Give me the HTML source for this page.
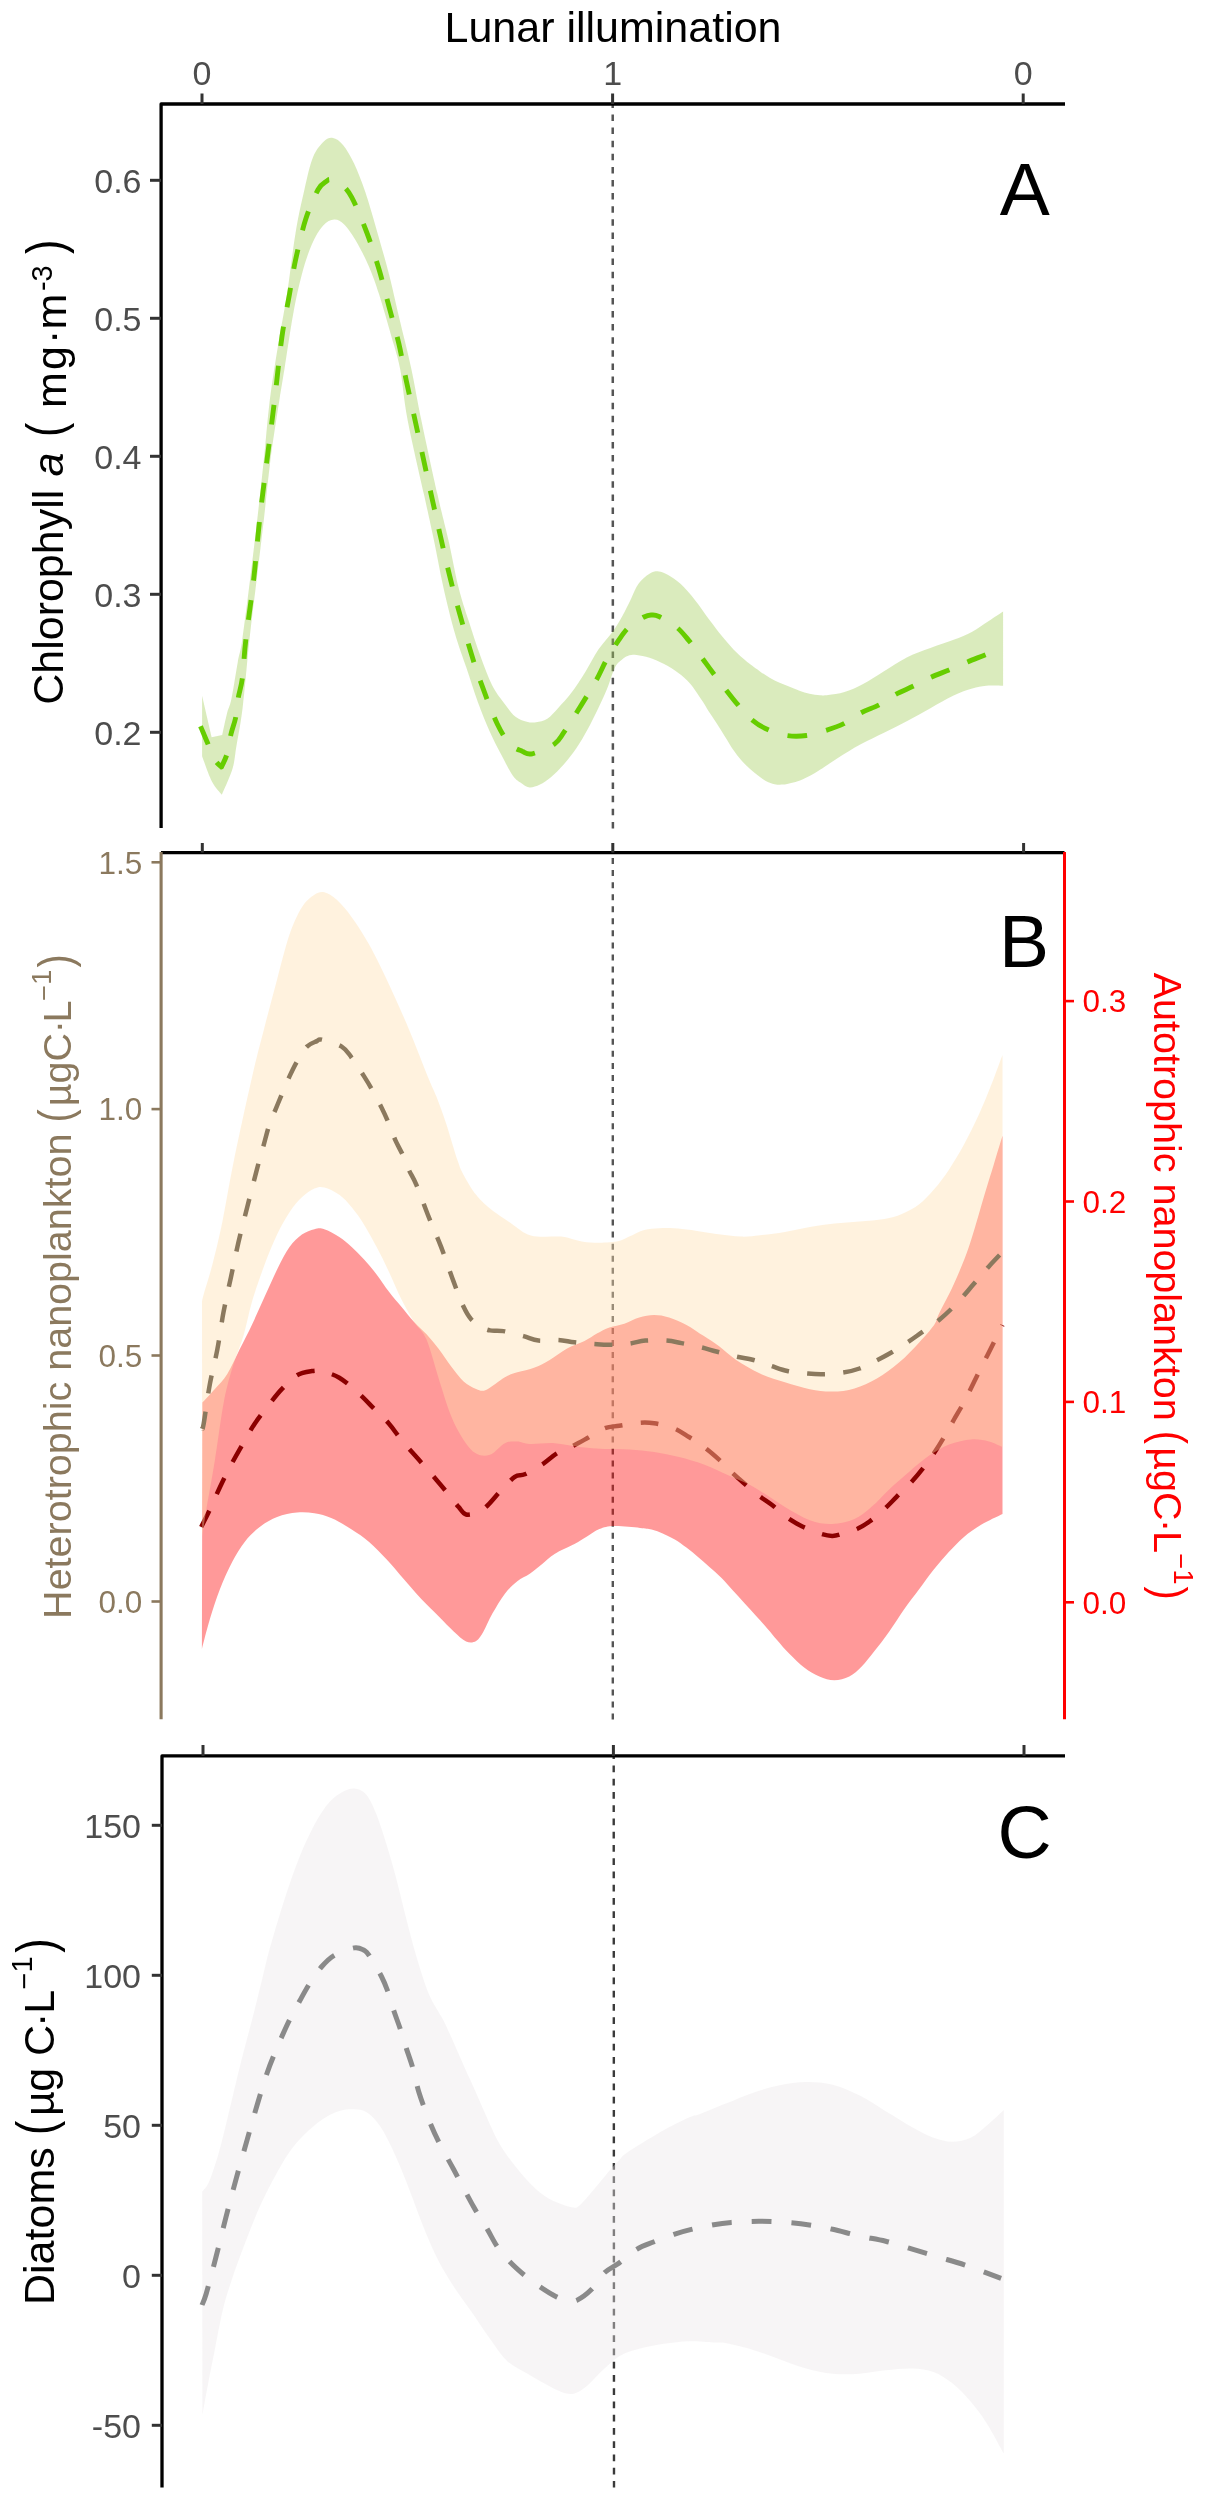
<!DOCTYPE html>
<html><head><meta charset="utf-8"><title>Lunar illumination</title>
<style>html,body{margin:0;padding:0;background:#fff;}svg{display:block;will-change:transform;font-family:"Liberation Sans",sans-serif;}</style></head>
<body><svg width="1206" height="2500" viewBox="0 0 1206 2500" font-family="Liberation Sans, sans-serif">
<rect width="1206" height="2500" fill="#fff"/>
<line x1="612.7" y1="101.4" x2="612.9" y2="828.6" stroke="#555" stroke-width="2.5" stroke-dasharray="6.5 6.6" stroke-dashoffset="0"/>
<path d="M202.1,695.8 L211.6,737.3 L222.2,735.0 C223.0,731.4 225.6,719.1 227.1,713.1 C228.6,707.1 229.6,707.5 231.4,699.0 C233.2,690.5 236.0,671.8 237.8,662.0 C239.6,652.2 240.2,653.7 242.2,640.0 C244.2,626.3 247.5,600.0 250.0,580.0 C252.5,560.0 254.9,540.0 257.2,520.0 C259.5,500.0 261.7,480.0 263.8,460.0 C265.9,440.0 267.4,419.4 269.8,400.0 C272.2,380.6 275.4,361.6 278.3,343.9 C281.2,326.2 284.1,312.6 287.0,294.0 C289.9,275.4 292.8,249.4 295.7,232.0 C298.6,214.6 301.5,202.1 304.4,189.7 C307.3,177.2 309.7,165.4 313.0,157.3 C316.3,149.2 321.0,144.3 324.3,141.1 C327.6,137.9 329.9,137.3 333.0,137.9 C336.1,138.5 339.5,140.6 343.0,144.9 C346.5,149.2 350.4,155.6 354.1,163.5 C357.8,171.4 361.6,181.1 365.3,192.1 C369.0,203.1 372.6,215.8 376.5,229.5 C380.4,243.2 385.3,259.7 389.0,274.2 C392.7,288.7 395.2,300.7 398.9,316.5 C402.6,332.3 407.6,351.6 411.3,368.8 C415.0,386.1 416.9,399.0 421.3,420.0 C425.7,441.0 433.0,474.6 437.5,494.6 C442.0,514.6 444.9,524.7 448.4,540.0 C451.9,555.3 454.9,572.9 458.3,586.4 C461.7,599.9 465.1,609.7 468.8,621.3 C472.5,632.9 476.5,645.5 480.4,656.1 C484.3,666.7 488.1,677.4 492.0,685.1 C495.9,692.8 499.7,697.3 503.6,702.5 C507.5,707.7 511.3,713.3 515.2,716.5 C519.1,719.7 523.3,720.7 526.8,721.7 C530.3,722.7 532.7,722.8 536.1,722.3 C539.5,721.8 543.6,721.2 547.3,718.8 C551.0,716.4 554.2,712.1 558.2,707.9 C562.2,703.6 566.4,699.4 571.0,693.3 C575.6,687.2 581.0,678.7 585.6,671.4 C590.2,664.1 593.8,656.2 598.4,649.5 C603.0,642.8 609.0,636.7 613.0,631.2 C617.0,625.7 619.1,622.1 622.1,616.6 C625.1,611.1 628.5,603.9 631.2,598.4 C633.9,592.9 635.5,587.9 638.5,583.8 C641.5,579.7 646.1,575.9 649.5,573.8 C652.9,571.7 655.6,571.2 658.6,571.4 C661.6,571.5 664.1,572.6 667.7,574.7 C671.4,576.8 675.9,579.5 680.5,583.8 C685.1,588.0 690.2,594.1 695.1,600.2 C700.0,606.3 705.1,614.2 709.7,620.3 C714.3,626.4 717.9,631.2 722.5,636.7 C727.1,642.2 732.5,648.5 737.1,653.1 C741.7,657.7 746.1,661.1 749.9,664.1 C753.7,667.1 756.7,669.1 760.0,671.4 C763.3,673.7 766.4,675.9 769.7,677.8 C773.0,679.7 776.3,681.3 779.6,682.8 C782.9,684.3 786.3,685.5 789.6,686.8 C792.9,688.1 796.2,689.6 799.5,690.7 C802.8,691.9 806.1,693.0 809.5,693.7 C812.9,694.5 816.9,695.0 820.0,695.2 C823.1,695.4 824.1,695.6 828.2,695.1 C832.3,694.6 838.7,694.0 844.5,692.1 C850.3,690.2 856.5,687.5 863.1,684.0 C869.7,680.5 876.6,675.7 884.0,671.2 C891.4,666.7 899.5,661.1 907.2,657.2 C914.9,653.3 922.7,650.9 930.4,648.0 C938.1,645.1 946.6,642.5 953.6,639.8 C960.6,637.1 966.4,634.8 972.2,631.7 C978.0,628.6 983.2,624.7 988.4,621.3 C993.5,617.9 1000.6,613.1 1003.1,611.5 L1003.1,685.8 C1000.3,685.8 991.2,685.3 986.1,685.8 C981.0,686.3 977.6,687.0 972.2,688.6 C966.8,690.2 960.6,692.3 953.6,695.6 C946.6,698.9 938.1,704.0 930.4,708.3 C922.7,712.5 914.9,717.0 907.2,721.1 C899.5,725.2 891.8,728.8 884.0,732.7 C876.2,736.6 868.5,740.0 860.7,744.3 C853.0,748.5 844.3,754.0 837.5,758.2 C830.7,762.5 824.6,766.9 820.0,769.8 C815.4,772.7 813.3,774.0 810.0,775.8 C806.7,777.6 803.1,779.2 800.0,780.4 C796.9,781.6 794.1,782.2 791.2,782.9 C788.4,783.6 785.7,784.4 782.9,784.6 C780.1,784.8 777.4,784.8 774.6,784.2 C771.8,783.7 769.1,782.8 766.3,781.3 C763.5,779.8 760.8,777.6 758.0,775.5 C755.2,773.4 752.5,771.3 749.8,768.8 C747.0,766.3 744.3,763.7 741.5,760.5 C738.7,757.3 736.0,753.8 733.2,749.8 C730.4,745.8 727.7,740.9 724.9,736.5 C722.1,732.1 719.4,727.5 716.6,723.2 C713.8,718.9 710.8,714.7 708.3,710.8 C705.8,706.9 704.8,704.5 701.7,700.0 C698.7,695.5 693.8,688.0 690.0,683.5 C686.2,679.0 683.0,676.4 678.7,673.2 C674.4,670.0 669.0,666.7 664.1,664.1 C659.2,661.5 654.1,659.2 649.5,657.7 C644.9,656.2 640.1,655.4 636.7,655.0 C633.4,654.6 631.8,654.5 629.4,655.3 C627.0,656.0 624.5,657.4 622.1,659.5 C619.7,661.6 617.2,663.0 614.8,667.7 C612.4,672.4 610.2,681.1 607.5,687.8 C604.8,694.5 601.8,700.9 598.4,707.9 C595.0,714.9 591.0,723.1 587.4,729.8 C583.8,736.5 580.5,742.2 576.5,748.0 C572.5,753.8 568.0,759.6 563.7,764.5 C559.4,769.4 554.9,773.9 550.9,777.2 C546.9,780.5 543.5,782.8 540.0,784.5 C536.5,786.2 532.7,787.5 529.7,787.4 C526.7,787.3 525.0,785.7 522.2,783.7 C519.4,781.8 516.4,780.5 512.9,775.7 C509.4,770.9 505.2,762.2 501.3,754.8 C497.4,747.4 493.6,740.2 489.7,731.5 C485.8,722.8 481.9,713.1 478.0,702.5 C474.1,691.9 470.3,679.3 466.4,667.7 C462.5,656.1 458.7,646.5 454.8,632.9 C450.9,619.3 446.7,601.9 443.2,586.4 C439.7,570.9 437.1,555.3 433.9,540.0 C430.7,524.7 428.4,514.6 424.0,494.6 C419.6,474.6 411.6,441.0 407.6,420.0 C403.6,399.0 402.8,382.7 400.1,368.8 C397.4,354.9 394.9,348.8 391.4,336.4 C387.9,323.9 382.7,305.7 379.0,294.1 C375.3,282.5 372.7,275.5 369.0,266.8 C365.3,258.1 360.7,249.0 356.6,241.9 C352.5,234.8 347.9,228.2 344.2,224.5 C340.5,220.8 337.7,219.3 334.2,219.5 C330.7,219.7 326.7,221.5 323.0,225.7 C319.3,229.8 315.3,236.3 311.8,244.4 C308.3,252.5 305.0,262.6 301.9,274.2 C298.8,285.8 296.1,298.2 293.2,314.0 C290.3,329.8 286.8,354.5 284.5,368.8 C282.2,383.1 281.8,384.8 279.4,400.0 C277.0,415.2 273.0,440.0 270.4,460.0 C267.8,480.0 266.1,500.0 263.8,520.0 C261.5,540.0 259.0,560.0 256.6,580.0 C254.2,600.0 251.7,618.7 249.4,640.0 C247.1,661.3 244.8,690.3 242.6,708.0 C240.4,725.7 238.1,736.1 236.4,746.2 C234.7,756.3 234.9,760.7 232.5,768.8 C230.1,776.9 223.6,790.4 221.8,794.7 C220.2,792.5 215.2,787.8 211.9,781.4 C208.6,775.0 203.7,760.4 202.1,756.2 Z" fill="#A2CD5A" fill-opacity="0.4"/>
<path d="M200.5,726.3 C201.8,729.2 205.6,738.4 208.0,744.0 C210.4,749.6 212.8,756.2 215.0,760.0 C217.2,763.8 220.4,765.8 221.5,767.0 C222.4,764.8 225.4,759.5 227.0,754.0 C228.6,748.5 229.5,740.2 231.0,734.0 C232.5,727.8 234.6,723.0 235.8,717.0 C237.0,711.0 237.1,704.5 238.2,698.0 C239.3,691.5 241.1,687.7 242.4,678.0 C243.7,668.3 243.9,656.3 245.8,640.0 C247.7,623.7 251.3,600.0 253.6,580.0 C255.9,560.0 257.4,540.0 259.6,520.0 C261.8,500.0 264.5,480.0 267.0,460.0 C269.5,440.0 272.1,420.6 274.6,400.0 C277.1,379.4 279.5,354.0 282.0,336.4 C284.5,318.8 287.2,307.0 289.5,294.1 C291.8,281.2 293.0,271.7 295.7,259.3 C298.4,246.9 301.9,231.1 305.6,219.5 C309.3,207.9 314.5,196.1 318.0,189.7 C321.5,183.3 324.6,182.7 326.8,181.0 C329.0,179.3 328.8,179.4 331.0,179.7 C333.2,180.0 336.6,180.1 340.0,183.0 C343.4,185.9 347.2,188.9 351.6,197.1 C356.0,205.3 362.0,220.0 366.6,232.0 C371.2,244.0 375.3,256.9 379.0,269.3 C382.7,281.7 385.7,294.2 389.0,306.6 C392.3,319.0 396.0,331.5 398.9,343.9 C401.8,356.3 403.7,368.5 406.4,381.2 C409.1,393.9 410.9,401.1 415.0,420.0 C419.1,438.9 425.2,467.7 431.2,494.6 C437.2,521.6 444.6,555.9 451.1,581.7 C457.6,607.5 464.8,631.9 470.0,649.4 C475.2,666.9 477.8,674.3 482.4,686.7 C486.9,699.1 492.7,714.5 497.3,724.0 C501.9,733.5 505.6,739.4 509.8,743.9 C514.0,748.4 518.5,749.6 522.2,751.3 C525.9,752.9 526.7,755.0 532.1,753.8 C537.5,752.6 549.1,747.6 554.5,743.9 C559.9,740.2 559.9,738.0 564.5,731.4 C569.1,724.8 576.5,712.8 581.9,704.1 C587.3,695.4 592.6,686.7 596.8,679.2 C600.9,671.7 603.1,665.9 606.8,659.3 C610.5,652.7 615.5,644.8 619.2,639.4 C622.9,634.0 625.1,630.7 629.2,627.0 C633.4,623.3 640.4,619.0 644.1,617.0 C647.8,615.0 649.0,615.1 651.5,615.0 C654.0,614.9 654.9,614.5 659.0,616.5 C663.1,618.5 671.4,623.0 676.4,627.0 C681.4,631.0 684.6,635.5 688.9,640.6 C693.2,645.8 698.0,652.5 702.0,657.9 C706.0,663.3 708.9,667.5 712.9,672.8 C716.9,678.1 721.8,684.5 725.9,689.8 C730.0,695.1 733.5,699.7 737.8,704.7 C742.1,709.7 746.7,715.5 751.7,719.6 C756.7,723.8 761.9,727.0 767.7,729.6 C773.5,732.2 780.1,734.5 786.6,735.5 C793.1,736.5 800.0,736.4 806.5,735.5 C813.0,734.6 819.8,732.3 825.9,730.4 C832.0,728.5 837.5,726.8 843.3,723.9 C849.1,721.0 854.7,716.2 860.7,713.0 C866.7,709.8 873.5,707.9 879.3,704.8 C885.1,701.7 890.0,697.5 895.6,694.4 C901.2,691.3 907.2,689.1 913.0,686.3 C918.8,683.5 924.4,680.2 930.4,677.5 C936.4,674.8 942.8,672.6 949.0,670.0 C955.2,667.4 961.5,664.4 967.5,661.9 C973.5,659.4 979.1,657.3 985.0,654.9 C990.9,652.5 1000.0,648.7 1003.0,647.5" fill="none" stroke="#66CD00" stroke-width="4.9" stroke-dasharray="19.67 19.67" stroke-linejoin="round"/>
<line x1="612.8" y1="852" x2="612.8" y2="1719.6" stroke="#555" stroke-width="2.4" stroke-dasharray="6 6.05" stroke-dashoffset="6"/>
<path d="M202.4,1402.5 C204.5,1400.2 210.8,1393.7 214.9,1388.9 C219.1,1384.1 223.2,1380.6 227.3,1373.9 C231.5,1367.2 235.7,1357.3 239.8,1349.0 C244.0,1340.7 248.1,1332.9 252.2,1324.2 C256.3,1315.5 260.5,1305.9 264.6,1296.8 C268.8,1287.7 273.0,1277.8 277.1,1269.5 C281.2,1261.2 285.4,1252.9 289.5,1247.1 C293.6,1241.3 297.8,1237.6 301.9,1234.6 C306.0,1231.6 310.7,1230.1 314.4,1229.2 C318.1,1228.3 320.1,1227.9 324.3,1229.2 C328.5,1230.5 334.7,1234.1 339.3,1237.1 C343.9,1240.1 347.6,1243.4 351.7,1247.1 C355.8,1250.8 360.0,1255.0 364.1,1259.5 C368.2,1264.0 372.5,1269.0 376.6,1274.4 C380.8,1279.8 384.9,1286.4 389.0,1291.8 C393.1,1297.2 397.2,1301.8 401.4,1306.8 C405.5,1311.8 409.8,1317.2 413.9,1321.7 C418.0,1326.2 422.1,1329.5 426.3,1334.1 C430.5,1338.7 434.7,1343.7 438.8,1349.1 C442.9,1354.5 447.1,1361.1 451.2,1366.5 C455.3,1371.9 459.5,1377.7 463.6,1381.4 C467.8,1385.1 472.4,1387.5 476.1,1388.9 C479.8,1390.3 481.2,1391.9 486.0,1390.0 C490.8,1388.1 499.7,1380.2 504.9,1377.3 C510.1,1374.3 512.3,1373.9 517.3,1372.3 C522.3,1370.7 529.3,1369.5 534.7,1367.4 C540.1,1365.3 544.3,1363.0 549.7,1359.9 C555.1,1356.8 561.3,1351.7 567.1,1348.6 C572.9,1345.5 579.5,1343.6 584.5,1341.1 C589.5,1338.6 592.8,1335.9 596.9,1333.6 C601.0,1331.3 604.8,1329.1 609.4,1327.4 C614.0,1325.8 619.3,1325.4 624.3,1323.7 C629.3,1322.0 634.2,1319.0 639.2,1317.5 C644.2,1316.0 649.1,1315.0 654.1,1315.0 C659.1,1315.0 663.7,1315.8 669.1,1317.5 C674.5,1319.2 680.7,1321.8 686.5,1324.9 C692.3,1328.0 698.5,1332.6 703.9,1336.1 C709.3,1339.6 713.4,1342.1 718.8,1346.1 C724.2,1350.1 729.3,1355.4 736.2,1360.0 C743.1,1364.6 751.9,1369.8 760.0,1373.5 C768.1,1377.2 776.6,1379.6 784.9,1382.2 C793.2,1384.8 801.9,1387.6 809.8,1389.2 C817.7,1390.8 824.6,1391.7 832.1,1391.6 C839.6,1391.5 847.0,1390.6 854.5,1388.4 C862.0,1386.2 869.4,1382.8 876.9,1378.5 C884.4,1374.2 892.2,1368.3 899.3,1362.3 C906.3,1356.3 913.4,1348.6 919.2,1342.4 C925.0,1336.2 930.8,1329.8 934.1,1325.0 C937.4,1320.2 935.8,1320.5 939.1,1313.6 C942.4,1306.7 949.0,1295.0 954.0,1283.8 C959.0,1272.6 964.0,1261.0 969.0,1246.5 C974.0,1232.0 979.8,1210.4 983.9,1196.7 C988.0,1183.0 990.7,1174.6 993.8,1164.4 C996.9,1154.2 1001.0,1140.6 1002.5,1135.8 L1002.5,1514.0 C998.9,1515.8 987.6,1520.9 981.1,1524.8 C974.6,1528.7 969.1,1532.7 963.7,1537.2 C958.3,1541.8 953.8,1546.7 948.8,1552.1 C943.8,1557.5 938.8,1563.4 933.8,1569.6 C928.8,1575.8 923.9,1582.9 918.9,1589.5 C913.9,1596.1 909.0,1602.4 904.0,1609.4 C899.0,1616.4 894.1,1624.7 889.1,1631.7 C884.1,1638.7 878.7,1645.8 874.1,1651.6 C869.5,1657.4 865.8,1662.4 861.7,1666.6 C857.6,1670.8 853.9,1674.2 849.3,1676.5 C844.7,1678.8 839.3,1680.2 834.3,1680.2 C829.3,1680.2 824.4,1678.6 819.4,1676.5 C814.4,1674.4 809.5,1671.5 804.5,1667.8 C799.5,1664.1 794.2,1658.7 789.6,1654.1 C785.0,1649.5 780.6,1644.2 777.0,1640.0 C773.4,1635.8 771.2,1632.9 767.7,1628.9 C764.2,1624.9 760.0,1620.4 756.1,1616.1 C752.2,1611.8 748.4,1607.5 744.5,1603.3 C740.6,1599.0 736.8,1594.8 732.9,1590.6 C729.0,1586.3 725.2,1581.7 721.3,1577.8 C717.4,1573.9 713.6,1570.8 709.7,1567.3 C705.8,1563.8 701.9,1560.2 698.0,1556.9 C694.1,1553.6 690.3,1550.5 686.4,1547.6 C682.5,1544.7 678.7,1541.8 674.8,1539.5 C670.9,1537.2 667.1,1535.4 663.2,1533.7 C659.3,1532.0 655.5,1530.6 651.6,1529.6 C647.7,1528.6 646.2,1528.5 640.0,1527.9 C633.8,1527.3 621.1,1525.9 614.3,1526.1 C607.5,1526.3 603.9,1527.4 599.4,1529.1 C594.9,1530.8 591.1,1534.0 587.0,1536.5 C582.9,1539.0 579.9,1541.1 574.5,1544.0 C569.1,1546.9 560.0,1550.6 554.6,1553.9 C549.2,1557.2 546.3,1560.6 542.2,1563.9 C538.1,1567.2 533.9,1570.9 529.8,1573.8 C525.6,1576.7 521.4,1578.0 517.3,1581.3 C513.1,1584.6 509.0,1588.3 504.9,1593.7 C500.8,1599.1 496.0,1607.3 492.4,1613.6 C488.8,1619.9 486.2,1626.9 483.5,1631.4 C480.8,1636.0 479.0,1639.2 476.1,1640.9 C473.2,1642.6 469.8,1643.0 466.1,1641.4 C462.4,1639.8 458.2,1635.6 453.7,1631.4 C449.1,1627.2 444.2,1621.9 438.8,1616.5 C433.4,1611.1 427.1,1605.3 421.3,1599.1 C415.5,1592.9 409.7,1585.8 403.9,1579.2 C398.1,1572.6 392.3,1565.5 386.5,1559.3 C380.7,1553.1 374.9,1546.9 369.1,1541.9 C363.3,1536.9 357.9,1533.4 351.7,1529.5 C345.5,1525.6 338.0,1521.0 331.8,1518.3 C325.6,1515.6 320.2,1514.3 314.4,1513.3 C308.6,1512.3 303.2,1511.9 297.0,1512.5 C290.8,1513.1 283.3,1514.6 277.1,1517.0 C270.9,1519.4 265.1,1522.8 259.7,1527.0 C254.3,1531.2 249.3,1536.1 244.7,1541.9 C240.1,1547.7 236.4,1553.9 232.3,1561.8 C228.2,1569.7 223.6,1579.7 219.9,1589.2 C216.2,1598.7 212.9,1609.0 209.9,1619.0 C206.9,1629.0 203.2,1643.9 201.9,1648.9 Z" fill="#FF0000" fill-opacity="0.4"/>
<path d="M201.2,1527.0 C202.6,1524.1 206.8,1516.2 209.9,1509.6 C213.0,1503.0 216.6,1494.2 219.9,1487.2 C223.2,1480.2 226.1,1474.3 229.8,1467.3 C233.5,1460.2 238.0,1452.2 242.2,1444.9 C246.3,1437.6 250.1,1430.6 254.7,1423.7 C259.3,1416.8 265.1,1409.6 269.6,1403.8 C274.2,1398.0 277.4,1393.7 282.0,1388.9 C286.6,1384.1 292.0,1378.2 297.0,1375.2 C302.0,1372.2 307.8,1371.6 311.9,1371.0 C316.0,1370.4 317.2,1370.3 321.8,1371.4 C326.4,1372.5 333.1,1374.0 339.3,1377.7 C345.5,1381.4 353.4,1388.6 359.2,1393.8 C365.0,1399.0 369.1,1403.8 374.1,1408.8 C379.1,1413.8 384.4,1418.5 389.0,1423.7 C393.6,1428.9 396.4,1433.9 401.4,1439.9 C406.4,1445.9 413.1,1453.2 418.9,1459.8 C424.7,1466.4 431.3,1473.9 436.3,1479.7 C441.3,1485.5 445.0,1490.0 448.7,1494.6 C452.4,1499.2 455.8,1503.8 458.7,1507.1 C461.6,1510.4 462.8,1513.7 466.1,1514.5 C469.4,1515.3 475.0,1513.6 478.6,1512.0 C482.2,1510.4 484.4,1508.4 488.0,1505.0 C491.6,1501.6 495.4,1496.4 499.9,1491.7 C504.4,1487.0 510.6,1479.7 514.8,1476.8 C518.9,1473.9 520.2,1476.4 524.8,1474.3 C529.4,1472.2 536.8,1467.9 542.2,1464.4 C547.6,1460.9 551.9,1456.3 557.1,1453.2 C562.3,1450.1 568.3,1448.2 573.3,1445.7 C578.3,1443.2 581.8,1441.2 587.0,1438.3 C592.2,1435.4 599.0,1430.4 604.4,1428.3 C609.8,1426.2 613.5,1426.7 619.3,1425.8 C625.1,1424.9 633.4,1423.2 639.2,1422.8 C645.0,1422.4 648.3,1422.4 654.1,1423.3 C659.9,1424.2 668.2,1426.0 674.0,1428.3 C679.8,1430.6 684.0,1433.9 689.0,1437.0 C694.0,1440.1 698.9,1443.3 703.9,1447.0 C708.9,1450.7 714.2,1455.3 718.8,1459.4 C723.3,1463.5 727.1,1467.9 731.2,1471.8 C735.4,1475.7 739.1,1479.0 743.7,1483.0 C748.3,1487.0 753.8,1491.8 758.6,1495.5 C763.4,1499.2 767.6,1501.6 772.4,1505.3 C777.2,1509.0 782.4,1514.3 787.4,1517.8 C792.4,1521.3 796.9,1523.9 802.3,1526.5 C807.7,1529.1 814.7,1531.8 819.7,1533.4 C824.7,1535.0 828.4,1535.8 832.1,1535.9 C835.8,1536.0 838.0,1535.1 842.1,1533.9 C846.2,1532.8 852.4,1531.1 857.0,1529.0 C861.6,1526.9 864.9,1524.8 869.5,1521.5 C874.1,1518.2 879.9,1513.2 884.4,1509.1 C888.9,1504.9 892.2,1501.2 896.8,1496.6 C901.3,1492.0 907.1,1486.7 911.7,1481.7 C916.3,1476.7 920.5,1471.6 924.2,1466.8 C927.9,1462.0 930.8,1458.1 934.1,1453.1 C937.4,1448.1 940.8,1442.5 944.1,1436.9 C947.4,1431.3 950.7,1425.3 954.0,1419.5 C957.3,1413.7 960.7,1408.3 964.0,1402.1 C967.3,1395.9 970.6,1388.8 973.9,1382.2 C977.2,1375.6 980.6,1368.9 983.9,1362.3 C987.2,1355.7 990.7,1348.6 993.8,1342.4 C996.9,1336.2 1001.0,1327.9 1002.5,1325.0" fill="none" stroke="#8B0000" stroke-width="4.5" stroke-dasharray="18.1 18.1" stroke-linejoin="round"/>
<path d="M202.0,1301.8 C202.3,1300.5 202.0,1300.5 203.7,1294.3 C205.4,1288.1 209.3,1276.5 212.4,1264.5 C215.5,1252.5 218.7,1239.6 222.3,1222.2 C225.9,1204.8 229.0,1184.3 234.0,1160.0 C239.0,1135.7 247.1,1098.6 252.2,1076.4 C257.3,1054.2 260.5,1042.9 264.6,1026.7 C268.8,1010.5 273.0,994.8 277.1,979.4 C281.2,964.0 285.4,946.6 289.5,934.6 C293.6,922.6 297.8,913.9 301.9,907.3 C306.0,900.7 310.7,897.3 314.4,894.8 C318.1,892.3 320.6,891.5 324.3,892.3 C328.0,893.1 332.2,895.6 336.8,899.8 C341.4,903.9 346.3,909.7 351.7,917.2 C357.1,924.7 362.9,933.4 369.1,944.6 C375.3,955.8 382.4,970.3 389.0,984.4 C395.6,998.5 402.3,1013.5 408.9,1029.2 C415.5,1045.0 424.2,1067.7 428.8,1078.9 C433.4,1090.1 433.4,1088.8 436.3,1096.3 C439.2,1103.8 442.7,1113.1 446.2,1123.7 C449.7,1134.3 454.5,1151.5 457.4,1160.0 C460.3,1168.5 460.5,1169.1 463.6,1174.9 C466.7,1180.7 471.7,1189.2 476.1,1194.8 C480.5,1200.4 484.0,1203.6 490.0,1208.5 C496.0,1213.4 506.5,1220.1 512.3,1224.2 C518.1,1228.3 520.6,1230.8 524.8,1232.9 C528.9,1235.0 532.7,1236.0 537.2,1236.6 C541.8,1237.2 547.5,1236.5 552.1,1236.6 C556.7,1236.7 560.0,1236.3 564.6,1237.1 C569.2,1237.8 574.5,1240.1 579.5,1241.1 C584.5,1242.0 588.2,1242.7 594.4,1242.8 C600.6,1242.9 611.0,1242.6 616.8,1241.6 C622.6,1240.6 624.7,1238.5 629.3,1236.6 C633.9,1234.6 639.2,1231.3 644.2,1229.9 C649.2,1228.5 654.1,1228.5 659.1,1228.2 C664.1,1227.9 668.6,1227.9 674.0,1228.2 C679.4,1228.5 684.4,1229.1 691.4,1230.1 C698.4,1231.1 708.0,1233.0 716.3,1234.1 C724.6,1235.2 733.9,1236.4 741.2,1236.6 C748.5,1236.8 752.7,1236.1 760.0,1235.3 C767.3,1234.5 776.6,1233.4 784.9,1232.0 C793.2,1230.6 801.5,1228.5 809.8,1227.1 C818.1,1225.7 826.3,1224.5 834.6,1223.6 C842.9,1222.7 851.2,1222.3 859.5,1221.6 C867.8,1220.8 877.4,1220.3 884.4,1219.1 C891.4,1217.8 896.0,1216.6 901.8,1214.1 C907.6,1211.6 913.8,1208.3 919.2,1204.2 C924.6,1200.1 929.1,1195.1 934.1,1189.3 C939.1,1183.5 944.1,1176.9 949.1,1169.4 C954.1,1161.9 959.0,1153.6 964.0,1144.5 C969.0,1135.4 974.4,1124.5 978.9,1114.6 C983.4,1104.6 987.4,1094.8 991.3,1084.8 C995.2,1074.8 1000.6,1059.9 1002.5,1054.9 L1002.5,1446.9 C1000.2,1446.0 994.1,1442.7 988.9,1441.4 C983.7,1440.2 978.0,1438.9 971.4,1439.4 C964.8,1439.9 956.1,1441.7 949.1,1444.4 C942.1,1447.1 935.8,1451.0 929.2,1455.6 C922.6,1460.1 915.9,1466.1 909.3,1471.7 C902.7,1477.3 895.6,1483.4 889.4,1489.2 C883.2,1495.0 877.7,1501.6 871.9,1506.6 C866.1,1511.6 861.1,1516.1 854.5,1519.0 C847.9,1521.9 839.6,1523.8 832.1,1524.0 C824.6,1524.2 817.7,1523.0 809.8,1520.2 C801.9,1517.4 794.3,1512.5 784.9,1507.0 C775.5,1501.5 763.0,1492.2 753.6,1487.0 C744.2,1481.8 737.1,1479.4 728.8,1475.6 C720.5,1471.8 712.2,1467.5 703.9,1464.4 C695.6,1461.3 687.3,1459.0 679.0,1456.9 C670.7,1454.8 662.4,1453.1 654.1,1451.9 C645.8,1450.7 637.6,1450.0 629.3,1449.5 C621.0,1449.0 612.7,1449.4 604.4,1449.0 C596.1,1448.6 587.8,1448.0 579.5,1447.0 C571.2,1446.0 562.9,1443.7 554.6,1443.2 C546.3,1442.7 536.0,1444.3 529.8,1444.0 C523.6,1443.7 521.4,1441.6 517.3,1441.5 C513.1,1441.4 509.4,1441.0 504.9,1443.2 C500.3,1445.4 494.8,1453.1 490.0,1454.8 C485.2,1456.5 480.5,1456.1 476.1,1453.6 C471.7,1451.1 467.8,1446.1 463.6,1439.9 C459.5,1433.7 455.3,1426.4 451.2,1416.2 C447.1,1406.0 442.9,1391.8 438.8,1378.9 C434.7,1366.1 430.5,1348.6 426.3,1339.1 C422.1,1329.6 418.0,1328.3 413.9,1321.7 C409.8,1315.1 405.5,1307.6 401.4,1299.3 C397.2,1291.0 393.1,1280.6 389.0,1271.9 C384.9,1263.2 380.8,1255.0 376.6,1247.1 C372.5,1239.2 368.2,1231.3 364.1,1224.7 C360.0,1218.1 355.8,1212.3 351.7,1207.3 C347.6,1202.3 343.9,1198.1 339.3,1194.8 C334.7,1191.5 328.5,1188.4 324.3,1187.4 C320.1,1186.4 318.1,1186.9 314.4,1188.6 C310.7,1190.2 306.0,1193.4 301.9,1197.3 C297.8,1201.2 293.6,1206.0 289.5,1212.2 C285.4,1218.4 281.2,1225.9 277.1,1234.6 C273.0,1243.3 268.8,1253.4 264.6,1264.5 C260.5,1275.6 255.7,1289.2 252.2,1301.0 C248.7,1312.8 246.8,1324.3 243.7,1335.0 C240.5,1345.7 236.6,1354.0 233.3,1365.0 C230.0,1376.0 227.1,1384.9 224.0,1401.0 C220.9,1417.1 217.6,1443.6 214.7,1461.4 C211.8,1479.2 208.7,1495.4 206.6,1507.8 C204.5,1520.2 202.9,1531.3 202.2,1536.0 Z" fill="#FFDEAD" fill-opacity="0.4"/>
<path d="M202.0,1428.7 C202.3,1427.9 202.4,1431.2 203.7,1423.7 C205.0,1416.2 207.6,1396.3 209.9,1383.9 C212.2,1371.5 215.1,1361.1 217.4,1349.1 C219.7,1337.1 221.3,1323.7 223.6,1311.7 C225.9,1299.7 228.5,1288.5 231.0,1276.9 C233.5,1265.3 235.8,1253.7 238.5,1242.1 C241.2,1230.5 243.9,1220.4 247.2,1207.3 C250.5,1194.2 255.7,1173.9 258.4,1163.7 C261.1,1153.5 261.5,1152.8 263.4,1146.1 C265.3,1139.4 267.5,1129.9 269.6,1123.7 C271.7,1117.5 273.7,1113.8 275.8,1108.8 C277.9,1103.8 279.7,1099.2 282.0,1093.8 C284.3,1088.4 287.0,1081.8 289.5,1076.4 C292.0,1071.0 294.1,1066.5 297.0,1061.5 C299.9,1056.5 303.6,1050.0 306.9,1046.6 C310.2,1043.2 314.4,1042.3 316.9,1041.1 C319.4,1039.9 317.7,1038.7 321.8,1039.6 C325.9,1040.5 336.7,1043.6 341.7,1046.6 C346.7,1049.6 348.0,1052.8 351.7,1057.8 C355.4,1062.8 360.8,1071.2 364.1,1076.4 C367.4,1081.6 368.7,1083.7 371.6,1088.9 C374.5,1094.1 378.8,1102.1 381.5,1107.5 C384.2,1112.9 385.5,1115.8 387.8,1121.2 C390.1,1126.6 392.7,1134.3 395.2,1139.9 C397.7,1145.5 400.4,1149.8 402.7,1154.8 C405.0,1159.8 406.6,1165.0 408.9,1170.0 C411.2,1175.0 413.1,1177.0 416.4,1184.9 C419.7,1192.8 424.7,1206.8 428.8,1217.2 C432.9,1227.6 437.1,1236.3 441.2,1247.1 C445.3,1257.9 450.0,1272.0 453.7,1281.9 C457.4,1291.9 460.7,1300.6 463.6,1306.8 C466.5,1313.0 468.2,1315.9 471.1,1319.2 C474.0,1322.5 477.9,1324.8 481.0,1326.7 C484.1,1328.6 486.2,1329.7 490.0,1330.4 C493.8,1331.1 498.0,1330.1 503.6,1331.1 C509.2,1332.0 517.7,1334.5 523.5,1336.1 C529.3,1337.7 532.7,1340.0 538.5,1340.6 C544.3,1341.2 552.4,1339.6 558.4,1339.9 C564.4,1340.2 568.5,1341.6 574.5,1342.3 C580.5,1343.0 588.4,1343.7 594.4,1344.1 C600.4,1344.5 604.8,1344.9 610.6,1344.8 C616.4,1344.7 623.5,1344.3 629.3,1343.6 C635.1,1342.9 639.2,1341.1 645.4,1340.6 C651.6,1340.1 660.6,1340.2 666.6,1340.6 C672.6,1341.0 675.7,1342.0 681.5,1343.1 C687.3,1344.2 695.6,1345.9 701.4,1347.3 C707.2,1348.7 710.5,1350.0 716.3,1351.5 C722.1,1353.0 730.0,1355.1 736.2,1356.5 C742.4,1357.9 747.8,1358.4 753.6,1360.0 C759.4,1361.6 765.6,1364.2 771.2,1366.0 C776.8,1367.8 781.4,1369.8 787.4,1371.0 C793.4,1372.2 801.5,1373.0 807.3,1373.5 C813.1,1374.0 816.4,1374.3 822.2,1374.2 C828.0,1374.1 835.9,1373.7 842.1,1372.7 C848.3,1371.8 853.7,1370.6 859.5,1368.5 C865.3,1366.4 871.5,1363.0 876.9,1360.3 C882.3,1357.6 886.4,1355.5 891.8,1352.3 C897.2,1349.1 904.3,1344.4 909.3,1341.1 C914.3,1337.8 916.7,1335.9 921.7,1332.4 C926.7,1328.9 933.3,1324.8 939.1,1320.0 C944.9,1315.2 950.7,1309.7 956.5,1303.7 C962.3,1297.7 968.5,1290.0 973.9,1283.8 C979.3,1277.6 984.1,1271.7 988.9,1266.4 C993.7,1261.1 1000.2,1254.4 1002.5,1252.0" fill="none" stroke="#8B795E" stroke-width="4.5" stroke-dasharray="18.1 18.1" stroke-linejoin="round"/>
<line x1="613.7" y1="1756" x2="614" y2="2487.6" stroke="#3a3a3a" stroke-width="2.4" stroke-dasharray="6.6 6.65" stroke-dashoffset="3.7"/>
<path d="M202.2,2191.0 C202.4,2190.9 202.2,2191.8 203.4,2190.2 C204.6,2188.6 206.6,2187.8 209.2,2181.5 C211.8,2175.2 215.6,2163.9 218.8,2152.7 C222.0,2141.5 224.9,2128.8 228.4,2114.4 C231.9,2100.0 235.9,2082.4 239.9,2066.4 C243.9,2050.4 248.7,2032.8 252.4,2018.4 C256.1,2004.0 259.1,1991.5 262.0,1980.0 C264.9,1968.5 265.9,1962.5 269.6,1949.1 C273.4,1935.7 279.5,1914.7 284.5,1899.4 C289.5,1884.1 294.5,1869.5 299.5,1857.1 C304.5,1844.6 309.4,1833.8 314.4,1824.7 C319.4,1815.6 324.3,1807.9 329.3,1802.3 C334.3,1796.7 339.9,1793.4 344.2,1791.1 C348.5,1788.8 351.7,1788.1 355.4,1788.7 C359.1,1789.3 363.1,1790.6 366.6,1794.9 C370.1,1799.2 373.3,1806.5 376.6,1814.8 C379.9,1823.1 383.2,1833.8 386.5,1844.6 C389.8,1855.4 393.2,1867.0 396.5,1879.5 C399.8,1892.0 403.1,1906.5 406.4,1919.3 C409.7,1932.1 412.7,1944.2 416.4,1956.6 C420.1,1969.0 424.3,1983.3 428.8,1993.9 C433.3,2004.5 439.1,2012.0 443.2,2020.0 C447.3,2028.0 449.6,2033.6 453.2,2041.6 C456.8,2049.6 461.2,2060.1 464.8,2068.1 C468.4,2076.1 471.1,2081.7 474.7,2089.7 C478.3,2097.7 482.4,2107.6 486.3,2116.2 C490.2,2124.8 493.8,2133.6 497.9,2141.1 C502.0,2148.6 506.2,2154.4 511.2,2161.0 C516.2,2167.6 522.3,2175.1 527.8,2180.9 C533.3,2186.7 538.9,2191.9 544.4,2195.8 C549.9,2199.7 556.3,2202.2 561.0,2204.1 C565.7,2206.0 569.6,2207.1 572.6,2207.4 C575.6,2207.7 575.6,2208.7 579.2,2205.7 C582.8,2202.7 588.9,2195.3 594.1,2189.2 C599.4,2183.1 606.4,2174.3 610.7,2169.3 C615.0,2164.3 617.8,2161.7 620.0,2159.3 C622.2,2156.9 621.0,2157.1 624.2,2154.7 C627.4,2152.3 632.6,2148.9 639.2,2144.8 C645.8,2140.7 655.7,2134.5 664.0,2129.9 C672.3,2125.3 682.9,2120.1 688.9,2117.4 C694.9,2114.7 693.7,2116.2 700.0,2113.9 C706.3,2111.6 717.6,2106.8 726.5,2103.3 C735.4,2099.8 744.2,2095.7 753.1,2092.7 C762.0,2089.7 770.8,2087.0 779.6,2085.2 C788.4,2083.4 797.2,2082.1 806.1,2082.0 C815.0,2081.9 823.9,2082.5 832.7,2084.7 C841.6,2086.9 850.4,2090.9 859.2,2095.3 C868.0,2099.7 876.9,2105.9 885.7,2111.2 C894.6,2116.5 904.3,2122.8 912.3,2127.2 C920.3,2131.6 926.9,2135.4 933.5,2137.8 C940.1,2140.2 945.9,2141.7 952.1,2141.7 C958.3,2141.7 964.9,2140.5 970.6,2137.8 C976.3,2135.2 981.0,2130.5 986.5,2125.8 C992.0,2121.2 1000.9,2112.6 1003.8,2109.9 L1003.8,2453.4 C1000.9,2448.3 992.0,2431.5 986.5,2422.9 C981.0,2414.3 976.3,2408.2 970.6,2401.6 C964.9,2395.0 958.3,2388.0 952.1,2383.1 C945.9,2378.2 940.1,2374.3 933.5,2371.9 C926.9,2369.5 920.3,2368.8 912.3,2368.5 C904.3,2368.2 894.6,2369.4 885.7,2370.3 C876.9,2371.2 868.0,2373.2 859.2,2373.8 C850.4,2374.4 841.6,2374.7 832.7,2373.8 C823.9,2372.9 815.0,2370.9 806.1,2368.5 C797.2,2366.1 788.4,2362.3 779.6,2359.2 C770.8,2356.1 762.0,2352.6 753.1,2349.9 C744.2,2347.2 733.0,2344.5 726.5,2343.3 C720.0,2342.1 720.1,2342.8 713.8,2342.5 C707.5,2342.2 697.2,2341.1 688.9,2341.3 C680.6,2341.5 672.3,2342.6 664.0,2343.8 C655.7,2345.1 646.7,2346.7 639.2,2348.8 C631.8,2350.9 625.5,2352.5 619.3,2356.2 C613.1,2359.9 607.2,2366.1 601.8,2371.1 C596.4,2376.1 591.4,2382.4 586.9,2386.1 C582.4,2389.8 578.6,2392.5 574.5,2393.5 C570.4,2394.5 567.0,2394.0 562.0,2392.3 C557.0,2390.7 550.4,2386.7 544.6,2383.6 C538.8,2380.5 533.4,2377.3 527.2,2373.6 C521.0,2369.9 513.5,2367.0 507.3,2361.2 C501.1,2355.4 496.0,2347.0 490.0,2338.7 C484.0,2330.4 477.2,2319.9 471.1,2311.2 C465.1,2302.5 459.1,2294.7 453.7,2286.4 C448.3,2278.1 443.4,2270.2 438.8,2261.5 C434.2,2252.8 430.5,2244.0 426.3,2234.1 C422.1,2224.2 418.0,2212.6 413.9,2201.8 C409.8,2191.0 405.5,2179.4 401.4,2169.5 C397.2,2159.6 392.7,2149.6 389.0,2142.1 C385.3,2134.6 382.8,2129.7 379.1,2124.7 C375.4,2119.7 370.8,2114.8 366.6,2112.2 C362.5,2109.6 358.8,2109.5 354.2,2109.3 C349.6,2109.1 344.7,2109.3 339.3,2111.0 C333.9,2112.7 327.6,2115.8 321.8,2119.7 C316.0,2123.6 309.8,2129.2 304.4,2134.6 C299.0,2140.0 294.5,2144.9 289.5,2152.0 C284.5,2159.1 279.6,2167.8 274.6,2176.9 C269.6,2186.0 264.7,2195.6 259.7,2206.8 C254.7,2218.0 249.4,2231.9 244.7,2244.1 C240.0,2256.3 235.3,2269.0 231.7,2280.0 C228.0,2291.0 225.6,2298.3 222.8,2309.9 C220.0,2321.5 217.1,2338.1 214.8,2349.7 C212.5,2361.3 211.0,2368.6 208.9,2379.5 C206.8,2390.4 203.5,2409.1 202.4,2415.0 Z" fill="#EBE6E8" fill-opacity="0.4"/>
<path d="M202.0,2305.0 C202.7,2303.1 203.8,2301.9 206.2,2293.8 C208.5,2285.7 212.8,2269.3 216.1,2256.5 C219.4,2243.7 222.8,2229.5 226.1,2216.7 C229.4,2203.8 232.5,2192.2 236.0,2179.4 C239.5,2166.6 243.7,2152.0 247.2,2139.6 C250.7,2127.2 253.9,2115.9 257.2,2104.8 C260.5,2093.7 264.2,2081.5 267.1,2073.0 C270.0,2064.5 272.1,2059.7 274.6,2053.6 C277.1,2047.5 279.5,2041.8 282.0,2036.2 C284.5,2030.6 286.6,2025.8 289.5,2020.0 C292.4,2014.2 296.2,2007.3 299.5,2001.3 C302.8,1995.3 305.7,1989.7 309.4,1983.9 C313.1,1978.1 317.6,1971.3 321.8,1966.5 C326.0,1961.7 328.9,1958.4 334.3,1955.3 C339.7,1952.2 349.2,1948.7 354.2,1947.9 C359.2,1947.1 361.6,1949.1 364.1,1950.3 C366.6,1951.5 366.2,1950.9 369.1,1955.3 C372.0,1959.7 378.4,1970.5 381.5,1976.5 C384.6,1982.5 385.7,1985.6 387.8,1991.4 C389.9,1997.2 391.9,2005.1 394.0,2011.3 C396.1,2017.5 398.1,2022.5 400.2,2028.7 C402.3,2034.9 404.3,2042.2 406.4,2048.6 C408.5,2055.0 410.5,2060.0 412.6,2067.3 C414.7,2074.6 416.2,2083.6 418.9,2092.3 C421.6,2101.0 425.5,2111.4 428.8,2119.7 C432.1,2128.0 434.7,2133.8 438.8,2142.1 C442.9,2150.4 447.9,2158.7 453.7,2169.5 C459.5,2180.3 468.0,2196.8 473.6,2206.8 C479.2,2216.8 483.4,2222.7 487.4,2229.4 C491.4,2236.1 493.7,2241.4 497.4,2246.8 C501.1,2252.2 505.2,2256.9 509.8,2261.7 C514.4,2266.5 519.7,2271.2 524.7,2275.4 C529.7,2279.6 534.5,2283.1 539.7,2286.6 C544.9,2290.1 551.2,2294.2 555.8,2296.5 C560.3,2298.8 563.5,2299.6 567.0,2300.2 C570.5,2300.8 572.9,2302.0 577.0,2300.2 C581.1,2298.3 587.4,2293.6 591.9,2289.1 C596.4,2284.6 599.7,2277.3 604.3,2272.9 C608.9,2268.5 613.9,2266.8 619.3,2262.9 C624.7,2259.0 630.9,2252.8 636.7,2249.3 C642.5,2245.8 647.9,2244.3 654.1,2241.8 C660.3,2239.3 667.8,2236.4 674.0,2234.3 C680.2,2232.2 685.2,2230.9 691.4,2229.4 C697.6,2227.9 704.7,2226.3 711.3,2225.1 C717.9,2223.9 722.9,2223.0 731.2,2222.4 C739.5,2221.8 751.2,2221.2 761.0,2221.3 C770.8,2221.4 781.8,2222.0 790.2,2222.7 C798.6,2223.4 804.3,2224.2 811.4,2225.3 C818.5,2226.4 824.7,2227.5 832.7,2229.3 C840.7,2231.1 850.4,2233.9 859.2,2235.9 C868.0,2237.9 876.9,2239.0 885.7,2241.2 C894.6,2243.4 903.4,2246.5 912.3,2249.2 C921.1,2251.9 930.0,2254.5 938.8,2257.2 C947.6,2259.8 954.9,2261.6 965.3,2265.1 C975.7,2268.6 995.1,2276.2 1001.1,2278.4" fill="none" stroke="#8A8A8A" stroke-width="5" stroke-dasharray="19.9 19.9" stroke-linejoin="round"/>
<path d="M161.1,828 L161.1,104 L1065,104" fill="none" stroke="#000" stroke-width="3.3" stroke-linecap="butt" stroke-linejoin="round"/>
<line x1="202.0" y1="93.5" x2="202.0" y2="104" stroke="#333" stroke-width="3"/>
<line x1="612.6" y1="93.5" x2="612.6" y2="104" stroke="#333" stroke-width="3"/>
<line x1="1023.2" y1="93.5" x2="1023.2" y2="104" stroke="#333" stroke-width="3"/>
<line x1="150" y1="180.3" x2="161" y2="180.3" stroke="#333" stroke-width="3"/>
<text x="141.5" y="192.5" font-size="34" fill="#4D4D4D" text-anchor="end">0.6</text>
<line x1="150" y1="318.3" x2="161" y2="318.3" stroke="#333" stroke-width="3"/>
<text x="141.5" y="330.5" font-size="34" fill="#4D4D4D" text-anchor="end">0.5</text>
<line x1="150" y1="456.3" x2="161" y2="456.3" stroke="#333" stroke-width="3"/>
<text x="141.5" y="468.5" font-size="34" fill="#4D4D4D" text-anchor="end">0.4</text>
<line x1="150" y1="594.3" x2="161" y2="594.3" stroke="#333" stroke-width="3"/>
<text x="141.5" y="606.5" font-size="34" fill="#4D4D4D" text-anchor="end">0.3</text>
<line x1="150" y1="732.3" x2="161" y2="732.3" stroke="#333" stroke-width="3"/>
<text x="141.5" y="744.5" font-size="34" fill="#4D4D4D" text-anchor="end">0.2</text>
<text x="202.0" y="85.2" font-size="34" fill="#4D4D4D" text-anchor="middle">0</text>
<text x="612.6" y="85.2" font-size="34" fill="#4D4D4D" text-anchor="middle">1</text>
<text x="1023.2" y="85.2" font-size="34" fill="#4D4D4D" text-anchor="middle">0</text>
<text x="613" y="42.3" font-size="43" fill="#000" text-anchor="middle">Lunar illumination</text>
<text x="1024.8" y="215" font-size="75" fill="#000" text-anchor="middle">A</text>
<g transform="translate(63.4,704.8) rotate(-90)" fill="#000"><text x="0.0" y="0.0" font-size="43">Chlorophyll</text><text x="228.2" y="0.0" font-size="43" font-style="italic">a</text><text transform="translate(267.8,0.0) scale(1,1.226)" font-size="43">(</text><text x="296.8" y="3.0" font-size="43">m</text><text x="334.8" y="3.0" font-size="43">g</text><text x="360.8" y="3.0" font-size="43">·</text><text x="375.3" y="3.0" font-size="43">m</text><text x="413.8" y="-11.4" font-size="29">-</text><text x="423.3" y="-11.4" font-size="29">3</text><text transform="translate(450.8,0.0) scale(1,1.226)" font-size="43">)</text></g>
<path d="M161,852.6 L1064.5,852.6" fill="none" stroke="#000" stroke-width="3.3"/>
<line x1="202.3" y1="843" x2="202.3" y2="852.6" stroke="#333" stroke-width="3"/>
<line x1="612.8" y1="843" x2="612.8" y2="852.6" stroke="#333" stroke-width="3"/>
<line x1="1023.6" y1="843" x2="1023.6" y2="852.6" stroke="#333" stroke-width="3"/>
<line x1="161.1" y1="852" x2="161.1" y2="1719.2" stroke="#8B795E" stroke-width="3.1"/>
<line x1="151.5" y1="862.3" x2="160.8" y2="862.3" stroke="#8B795E" stroke-width="2.6"/>
<text x="142.2" y="873.6" font-size="31.5" fill="#8B795E" text-anchor="end">1.5</text>
<line x1="151.5" y1="1109.1" x2="160.8" y2="1109.1" stroke="#8B795E" stroke-width="2.6"/>
<text x="142.2" y="1120.4" font-size="31.5" fill="#8B795E" text-anchor="end">1.0</text>
<line x1="151.5" y1="1355.5" x2="160.8" y2="1355.5" stroke="#8B795E" stroke-width="2.6"/>
<text x="142.2" y="1366.8" font-size="31.5" fill="#8B795E" text-anchor="end">0.5</text>
<line x1="151.5" y1="1601.5" x2="160.8" y2="1601.5" stroke="#8B795E" stroke-width="2.6"/>
<text x="142.2" y="1612.8" font-size="31.5" fill="#8B795E" text-anchor="end">0.0</text>
<line x1="1064.5" y1="852" x2="1064.5" y2="1719.2" stroke="#FF0000" stroke-width="3"/>
<line x1="1064.2" y1="1001.1" x2="1074" y2="1001.1" stroke="#FF0000" stroke-width="2.6"/>
<text x="1082.5" y="1012.4" font-size="31.5" fill="#FF0000">0.3</text>
<line x1="1064.2" y1="1201.5" x2="1074" y2="1201.5" stroke="#FF0000" stroke-width="2.6"/>
<text x="1082.5" y="1212.8" font-size="31.5" fill="#FF0000">0.2</text>
<line x1="1064.2" y1="1401.9" x2="1074" y2="1401.9" stroke="#FF0000" stroke-width="2.6"/>
<text x="1082.5" y="1413.2" font-size="31.5" fill="#FF0000">0.1</text>
<line x1="1064.2" y1="1602.3" x2="1074" y2="1602.3" stroke="#FF0000" stroke-width="2.6"/>
<text x="1082.5" y="1613.6" font-size="31.5" fill="#FF0000">0.0</text>
<text x="1024" y="966.5" font-size="75" fill="#000" text-anchor="middle">B</text>
<g transform="translate(71.0,1618.9) rotate(-90)" fill="#8B795E"><text x="0.0" y="0.0" font-size="39.5">Heterotrophic nanoplankton</text><text transform="translate(496.3,0.0) scale(1,1.190)" font-size="39.5">(</text><text x="512.7" y="0.0" font-size="39.5">µgC</text><text x="585.7" y="0.0" font-size="39.5">·</text><text x="596.3" y="0.0" font-size="39.5">L</text><text x="618.2" y="-18.0" font-size="27">−</text><text x="634.1" y="-19.8" font-size="27">1</text><text transform="translate(651.5,0.0) scale(1,1.190)" font-size="39.5">)</text></g>
<g transform="translate(1153.8,972.7) rotate(90)" fill="#FF0000"><text x="0.0" y="0.0" font-size="39.5">Autotrophic nanoplankton</text><text transform="translate(458.1,0.0) scale(1,1.190)" font-size="39.5">(</text><text x="474.6" y="0.0" font-size="39.5">µgC</text><text x="546.4" y="0.0" font-size="39.5">·</text><text x="558.4" y="0.0" font-size="39.5">L</text><text x="580.8" y="-18.0" font-size="27">−</text><text x="596.7" y="-20.4" font-size="27">1</text><text transform="translate(613.8,0.0) scale(1,1.190)" font-size="39.5">)</text></g>
<path d="M162,2487.4 L162,1755.9 L1065,1755.9" fill="none" stroke="#000" stroke-width="3.3" stroke-linejoin="round"/>
<line x1="203.0" y1="1745" x2="203.0" y2="1755.9" stroke="#333" stroke-width="3"/>
<line x1="613.4" y1="1745" x2="613.4" y2="1755.9" stroke="#333" stroke-width="3"/>
<line x1="1024.0" y1="1745" x2="1024.0" y2="1755.9" stroke="#333" stroke-width="3"/>
<line x1="151.8" y1="1825.3" x2="162" y2="1825.3" stroke="#333" stroke-width="3"/>
<text x="141" y="1837.5" font-size="34" fill="#4D4D4D" text-anchor="end">150</text>
<line x1="151.8" y1="1975.3" x2="162" y2="1975.3" stroke="#333" stroke-width="3"/>
<text x="141" y="1987.5" font-size="34" fill="#4D4D4D" text-anchor="end">100</text>
<line x1="151.8" y1="2125.3" x2="162" y2="2125.3" stroke="#333" stroke-width="3"/>
<text x="141" y="2137.5" font-size="34" fill="#4D4D4D" text-anchor="end">50</text>
<line x1="151.8" y1="2275.3" x2="162" y2="2275.3" stroke="#333" stroke-width="3"/>
<text x="141" y="2287.5" font-size="34" fill="#4D4D4D" text-anchor="end">0</text>
<line x1="151.8" y1="2425.3" x2="162" y2="2425.3" stroke="#333" stroke-width="3"/>
<text x="141" y="2437.5" font-size="34" fill="#4D4D4D" text-anchor="end">-50</text>
<text x="1024.5" y="1858" font-size="75" fill="#000" text-anchor="middle">C</text>
<g transform="translate(54.0,2305.0) rotate(-90)" fill="#000"><text x="0.0" y="0.0" font-size="43">Diatoms</text><text transform="translate(170.1,0.0) scale(1,1.240)" font-size="43">(</text><text x="189.0" y="0.0" font-size="43">µ</text><text x="213.2" y="0.0" font-size="43">g</text><text x="249.0" y="0.0" font-size="43">C</text><text x="278.0" y="0.0" font-size="43">·</text><text x="291.2" y="0.0" font-size="43">L</text><text x="315.4" y="-20.0" font-size="29">−</text><text x="332.4" y="-21.8" font-size="29">1</text><text transform="translate(352.3,0.0) scale(1,1.240)" font-size="43">)</text></g>
</svg></body></html>
